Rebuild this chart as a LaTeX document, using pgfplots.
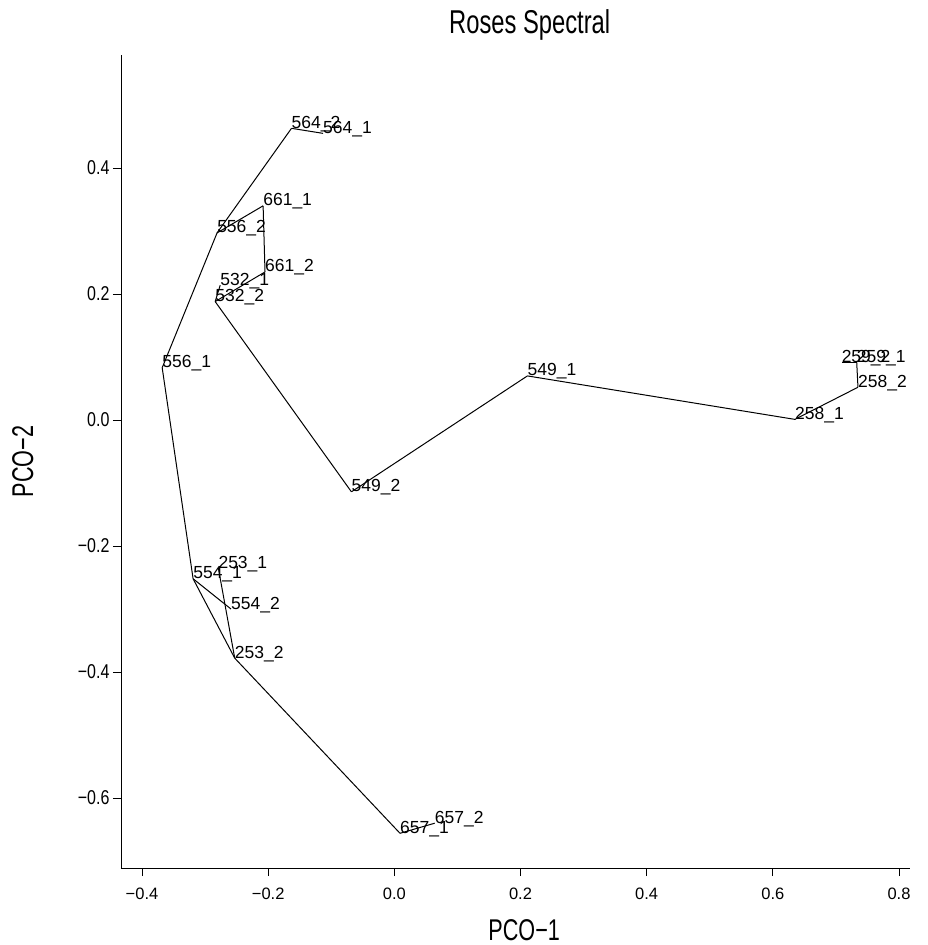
\documentclass[border=0pt]{standalone}
\usepackage{fontspec}
\setmainfont{Liberation Sans}
\newfontfamily\narrowfont[FakeStretch=0.72]{Liberation Sans}
\newfontfamily\tickfont[FakeStretch=0.8]{Liberation Sans}
\usepackage{pgfplots}
\usepackage{pgfplotstable}
\pgfplotsset{compat=1.18}

% point positions (PCO-1, PCO-2) and their names
\pgfplotstableread{
x y label
-0.163 0.463 564\_2
-0.113 0.455 564\_1
-0.208 0.340 661\_1
-0.281 0.297 556\_2
-0.205 0.235 661\_2
-0.276 0.214 532\_1
-0.284 0.188 532\_2
-0.368 0.083 556\_1
-0.319 -0.252 554\_1
-0.279 -0.235 253\_1
-0.259 -0.300 554\_2
-0.253 -0.378 253\_2
0.009 -0.656 657\_1
0.064 -0.640 657\_2
-0.068 -0.114 549\_2
0.211 0.070 549\_1
0.635 0.001 258\_1
0.735 0.052 258\_2
0.733 0.092 259\_1
0.709 0.092 259\_2
}\pts

\begin{document}
\begin{tikzpicture}
\begin{axis}[
    scale only axis,
    width=789pt, height=813pt,
    xmin=-0.4333, xmax=0.8175,
    ymin=-0.7111, ymax=0.5794,
    axis x line*=bottom, axis y line*=left,
    axis line style={black, line width=0.9pt, -},
    tick align=outside,
    major tick length=8pt,
    tick style={black, line width=0.9pt},
    xtick={-0.4,-0.2,0,0.2,0.4,0.6,0.8},
    xticklabels={−0.4,−0.2,0.0,0.2,0.4,0.6,0.8},
    ytick={-0.6,-0.4,-0.2,0,0.2,0.4},
    yticklabels={−0.6,−0.4,−0.2,0.0,0.2,0.4},
    xticklabel style={font=\fontsize{16.5}{18}\selectfont, yshift=-8pt},
    yticklabel style={font=\tickfont\fontsize{20}{22}\selectfont},
    title={Roses Spectral},
    title style={font=\narrowfont\fontsize{33}{36}\selectfont, at={(axis description cs:0.518,1.0193)}, anchor=base},
    xlabel={PCO−1},
    xlabel style={font=\narrowfont\fontsize{30}{32}\selectfont, at={(axis description cs:0.511,-0.0886)}, anchor=base},
    ylabel={PCO−2},
    ylabel style={font=\narrowfont\fontsize{30}{32}\selectfont, at={(axis description cs:-0.1115,0.5)}, anchor=base, rotate=0},
    clip=false,
]
\pgfplotsset{edge/.style={black, line width=1pt, mark=none}}
\addplot[edge] coordinates {(-0.163,0.463)(-0.113,0.455)};
\addplot[edge] coordinates {(-0.163,0.463)(-0.281,0.297)};
\addplot[edge] coordinates {(-0.281,0.297)(-0.368,0.083)};
\addplot[edge] coordinates {(-0.281,0.297)(-0.208,0.340)};
\addplot[edge] coordinates {(-0.208,0.340)(-0.205,0.235)};
\addplot[edge] coordinates {(-0.205,0.235)(-0.284,0.188)};
\addplot[edge] coordinates {(-0.276,0.214)(-0.284,0.188)};
\addplot[edge] coordinates {(-0.284,0.188)(-0.068,-0.114)};
\addplot[edge] coordinates {(-0.068,-0.114)(0.211,0.070)};
\addplot[edge] coordinates {(0.211,0.070)(0.635,0.001)};
\addplot[edge] coordinates {(0.635,0.001)(0.735,0.052)};
\addplot[edge] coordinates {(0.735,0.052)(0.733,0.092)};
\addplot[edge] coordinates {(0.733,0.092)(0.709,0.092)};
\addplot[edge] coordinates {(-0.368,0.083)(-0.319,-0.252)};
\addplot[edge] coordinates {(-0.319,-0.252)(-0.259,-0.300)};
\addplot[edge] coordinates {(-0.319,-0.252)(-0.253,-0.378)};
\addplot[edge] coordinates {(-0.279,-0.235)(-0.253,-0.378)};
\addplot[edge] coordinates {(-0.253,-0.378)(0.009,-0.656)};
\addplot[edge] coordinates {(0.009,-0.656)(0.064,-0.640)};

% names of the points
\addplot[only marks, mark=none,
    nodes near coords, point meta=explicit symbolic,
    nodes near coords style={anchor=base west, inner sep=0pt,
        font=\fontsize{17.5}{19}\selectfont}]
    table[x=x, y=y, meta=label] {\pts};
\end{axis}
\pgfresetboundingbox
\path ([shift={(-121pt,-77pt)}]current axis.south west) rectangle ([shift={(17pt,55pt)}]current axis.north east);
\end{tikzpicture}
\end{document}
